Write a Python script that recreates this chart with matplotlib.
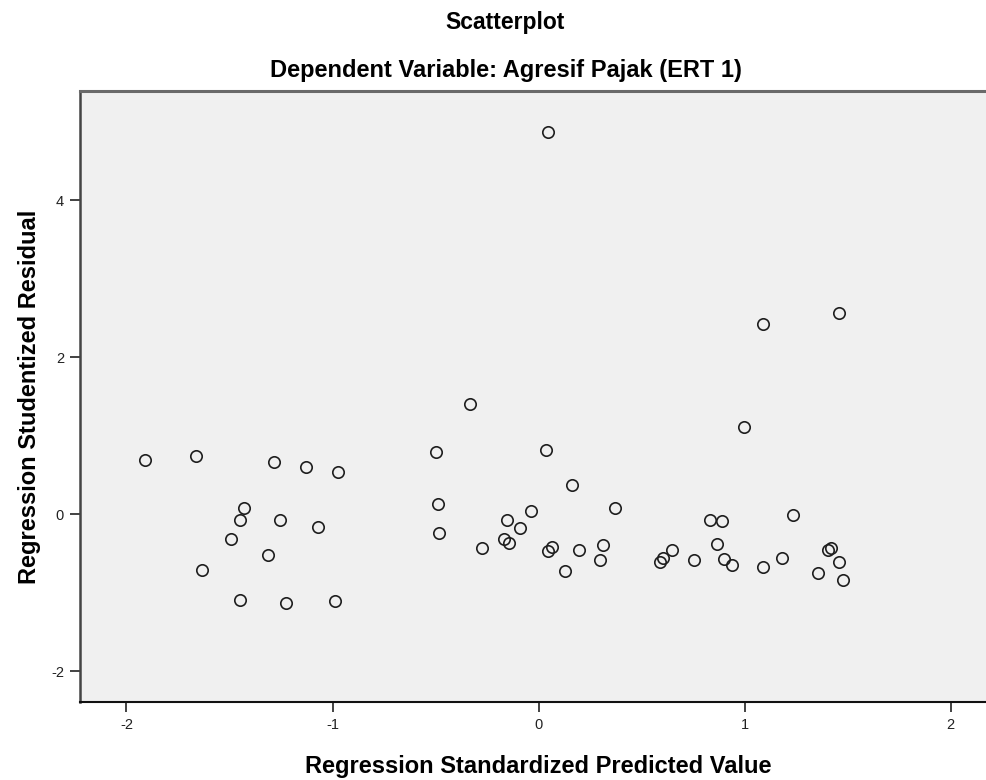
import matplotlib
matplotlib.use("Agg")
import matplotlib.pyplot as plt

plt.rcParams['font.family'] = ['Liberation Sans', 'DejaVu Sans']

predicted = [
    -1.909, -1.663, -1.286, -1.130, -0.975, -1.428, -1.450, -1.255, -1.069, -1.494,
    -1.315, -1.633, -1.449, -1.224, -0.989,
    -0.498, -0.488, -0.482, -0.331, -0.274, -0.154, -0.090, -0.036, -0.167, -0.145,
    0.038, 0.045, 0.164, 0.370, 0.066, 0.045, 0.197, 0.130, 0.313, 0.300,
    0.590, 0.606, 0.647, 0.753, 0.834, 0.889, 0.868, 0.902, 0.938, 0.999,
    1.091, 1.184, 1.235, 1.407, 1.418, 1.460, 1.357, 1.480, 1.459, 1.090,
]
residual = [
    0.690, 0.749, 0.669, 0.601, 0.545, 0.079, -0.074, -0.074, -0.159, -0.316,
    -0.520, -0.711, -1.089, -1.127, -1.102,
    0.792, 0.130, -0.232, 1.410, -0.430, -0.074, -0.176, 0.045, -0.316, -0.359,
    0.822, 4.870, 0.372, 0.087, -0.414, -0.469, -0.448, -0.720, -0.385, -0.580,
    -0.605, -0.558, -0.452, -0.580, -0.074, -0.079, -0.372, -0.571, -0.647, 1.115,
    -0.669, -0.550, -0.006, -0.452, -0.431, -0.605, -0.749, -0.834, 2.567, 2.430,
]

title = "Scatterplot"
subtitle = "Dependent Variable: Agresif Pajak (ERT 1)"
xlabel = "Regression Standardized Predicted Value"
ylabel = "Regression Studentized Residual"
xticks = [-2, -1, 0, 1, 2]
yticks = [-2, 0, 2, 4]

fig = plt.figure(figsize=(9.87, 7.80), dpi=100)
ax = fig.add_axes([80/987, 78/780, 907/987, 611/780])
ax.set_facecolor('#F0F0F0')

ax.plot(predicted, residual, linestyle='none', marker='o', markersize=8.2,
        markerfacecolor='none', markeredgecolor='#1e1e1e', markeredgewidth=1.2)

ax.set_xlim(-2.2257, 2.177)
ax.set_ylim(-2.389, 5.395)
ax.set_xticks(xticks)
ax.set_yticks(yticks)
ax.set_xticklabels([str(t) for t in xticks])
ax.set_yticklabels([str(t) for t in yticks])
ax.tick_params(direction='out', length=7.5, width=1.2, labelsize=10.5,
               colors='#222222', pad=4)

ax.spines['right'].set_visible(False)
ax.spines['top'].set_color('#6a6a6a')
ax.spines['top'].set_linewidth(2.2)
ax.spines['left'].set_color('#444444')
ax.spines['left'].set_linewidth(1.8)
ax.spines['bottom'].set_color('#111111')
ax.spines['bottom'].set_linewidth(1.5)

ax.set_xlabel(xlabel, fontsize=17, fontweight='bold', va='center')
ax.xaxis.set_label_coords((538.5 - 80) / 907, (702 - 766) / 611)
ax.set_ylabel(ylabel, fontsize=17, fontweight='bold', va='center')
ax.yaxis.set_label_coords((30 - 80) / 907, 1 - (397 - 91) / 611)

fig.text(505/987, 1 - 23/780, title, ha='center', va='center',
         fontsize=16.5, fontweight='bold')
fig.text(506/987, 1 - 70/780, subtitle, ha='center', va='center',
         fontsize=17, fontweight='bold')

fig.savefig('out.png', dpi=100, facecolor='white')
